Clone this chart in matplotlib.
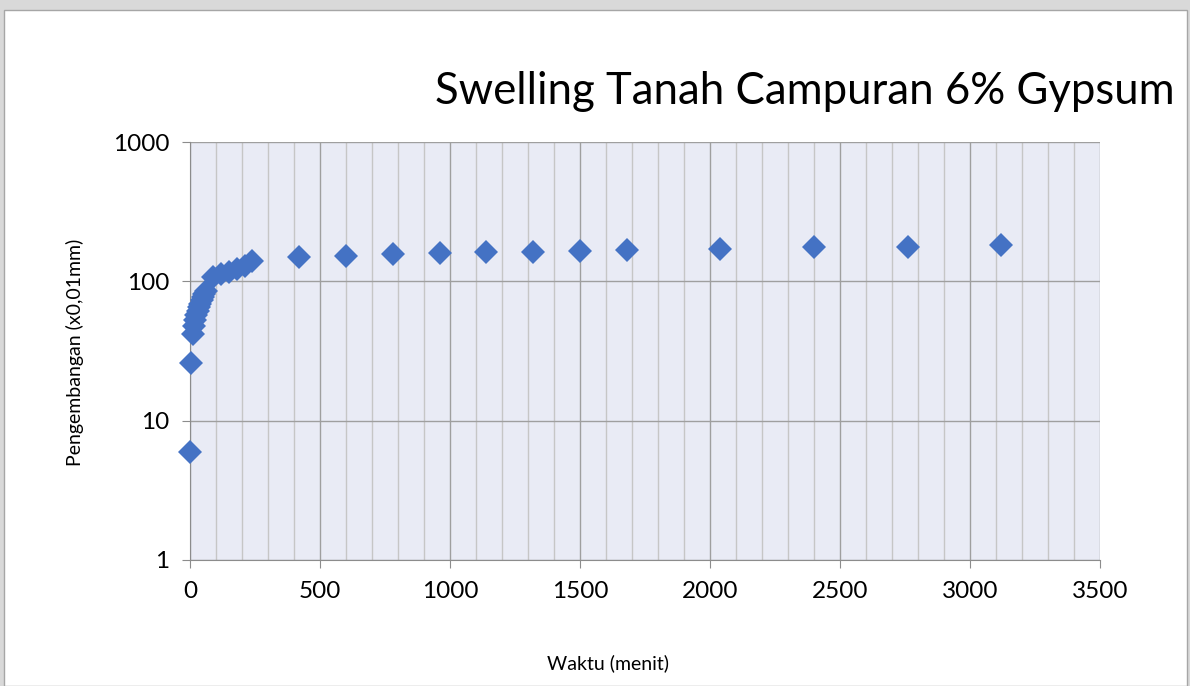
import matplotlib
matplotlib.use("Agg")
import matplotlib.pyplot as plt
from matplotlib.ticker import MultipleLocator, FixedLocator, NullLocator
from matplotlib.patches import Rectangle

# Data
waktu = [1, 5, 10, 15, 20, 25, 30, 35, 40, 45, 50, 55, 60,
         90, 120, 150, 180, 210, 240,
         420, 600, 780, 960, 1140, 1320, 1500, 1680, 2040, 2400, 2760, 3120]
pengembangan = [6, 26, 42, 48, 53, 57, 61, 65, 69, 73, 77, 81, 85,
                107, 112, 117, 122, 128, 140,
                150, 153, 157, 159, 162, 163, 165, 168, 171, 175, 177, 182]
x_ticks = [0, 500, 1000, 1500, 2000, 2500, 3000, 3500]
y_ticks = [1, 10, 100, 1000]
title = "Swelling Tanah Campuran 6% Gypsum"

plt.rcParams['font.family'] = ['Lato', 'DejaVu Sans']
fig = plt.figure(figsize=(11.9, 6.86), dpi=100)
fig.patch.set_facecolor('#d9d9d9')
fig.patches.append(Rectangle((4/1190, 0), 1183/1190, 676/686, transform=fig.transFigure,
                             facecolor='white', edgecolor='#a6a6a6', lw=1, zorder=-10))

ax = fig.add_axes([190/1190, 1-560/686, 910/1190, 418/686])
ax.set_zorder(5)
ax.set_facecolor('#e9ebf5')
ax.set_yscale('log')
ax.set_xlim(0, 3500)
ax.set_ylim(1, 1000)

ax.xaxis.set_major_locator(FixedLocator(x_ticks))
ax.xaxis.set_minor_locator(MultipleLocator(100))
ax.yaxis.set_major_locator(FixedLocator(y_ticks))
ax.yaxis.set_minor_locator(NullLocator())
ax.set_yticklabels([str(v) for v in y_ticks])
ax.set_xticklabels([str(v) for v in x_ticks])

ax.grid(which='minor', axis='x', color='#c6c6c6', lw=1)
ax.grid(which='major', axis='x', color='#9f9f9f', lw=1)
ax.grid(which='major', axis='y', color='#9f9f9f', lw=1)
ax.set_axisbelow(True)

for s in ['top', 'right']:
    ax.spines[s].set_visible(False)
for s in ['left', 'bottom']:
    ax.spines[s].set_color('#8c8c8c')
ax.tick_params(which='major', length=6, color='#8c8c8c', labelsize=17.5, pad=9)
ax.tick_params(which='minor', length=0)

ax.plot(waktu, pengembangan, linestyle='none', marker='D', markersize=12.5,
        color='#4472c4', markeredgewidth=0, clip_on=False, zorder=3)

fig.text(1175/1190, 1-92/686, title, ha='right', va='center', fontsize=31.5, color='black')
fig.text(608/1190, 1-663/686, "Waktu (menit)", ha='center', va='center', fontsize=14)
fig.text(75/1190, 1-352/686, "Pengembangan (x0,01mm)", ha='center', va='center',
         fontsize=14, rotation=90)

fig.savefig("out.png", dpi=100, facecolor=fig.get_facecolor())
